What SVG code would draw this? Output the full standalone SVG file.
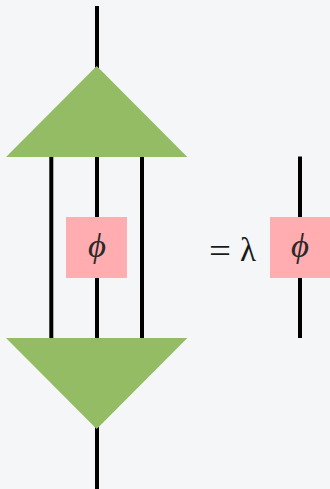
<svg xmlns="http://www.w3.org/2000/svg" width="330" height="489" viewBox="0 0 330 489">
<style>
.w{stroke:#000;stroke-width:4;fill:none}
.t{fill:#94bc64}
.b{fill:#ffadb0}
.m{font-family:"Liberation Serif","DejaVu Serif",serif;fill:#1a1a1a}
.p{font-size:33px;font-style:italic;fill:#2a2a2a}
.e{font-size:35px}
.l{font-size:33px}
</style>
<rect width="330" height="489" fill="#f4f6f8"/>
<g id="connectors">
<path class="w" d="M97 6V68M51.300 155V340M97 155V340M142 155V340M97 427V489M300 156.500V338"/>
</g>
<g id="top-triangle"><polygon class="t" points="96.700,66 187.300,157 6,157"/></g>
<g id="bottom-triangle"><polygon class="t" points="6,338 187.300,338 96.700,429"/></g>
<g id="phi-left"><rect class="b" x="66" y="217" width="61" height="61"/><text class="m p" x="88" y="257" textLength="18" lengthAdjust="spacingAndGlyphs">ϕ</text></g>
<g id="equals-lambda"><text class="m e" x="209" y="263" textLength="22" lengthAdjust="spacingAndGlyphs">=</text><text class="m l" x="248" y="261" text-anchor="middle">λ</text></g>
<g id="phi-right"><rect class="b" x="270" y="217" width="60" height="61"/><text class="m p" x="291" y="257" textLength="18" lengthAdjust="spacingAndGlyphs">ϕ</text></g>
</svg>
